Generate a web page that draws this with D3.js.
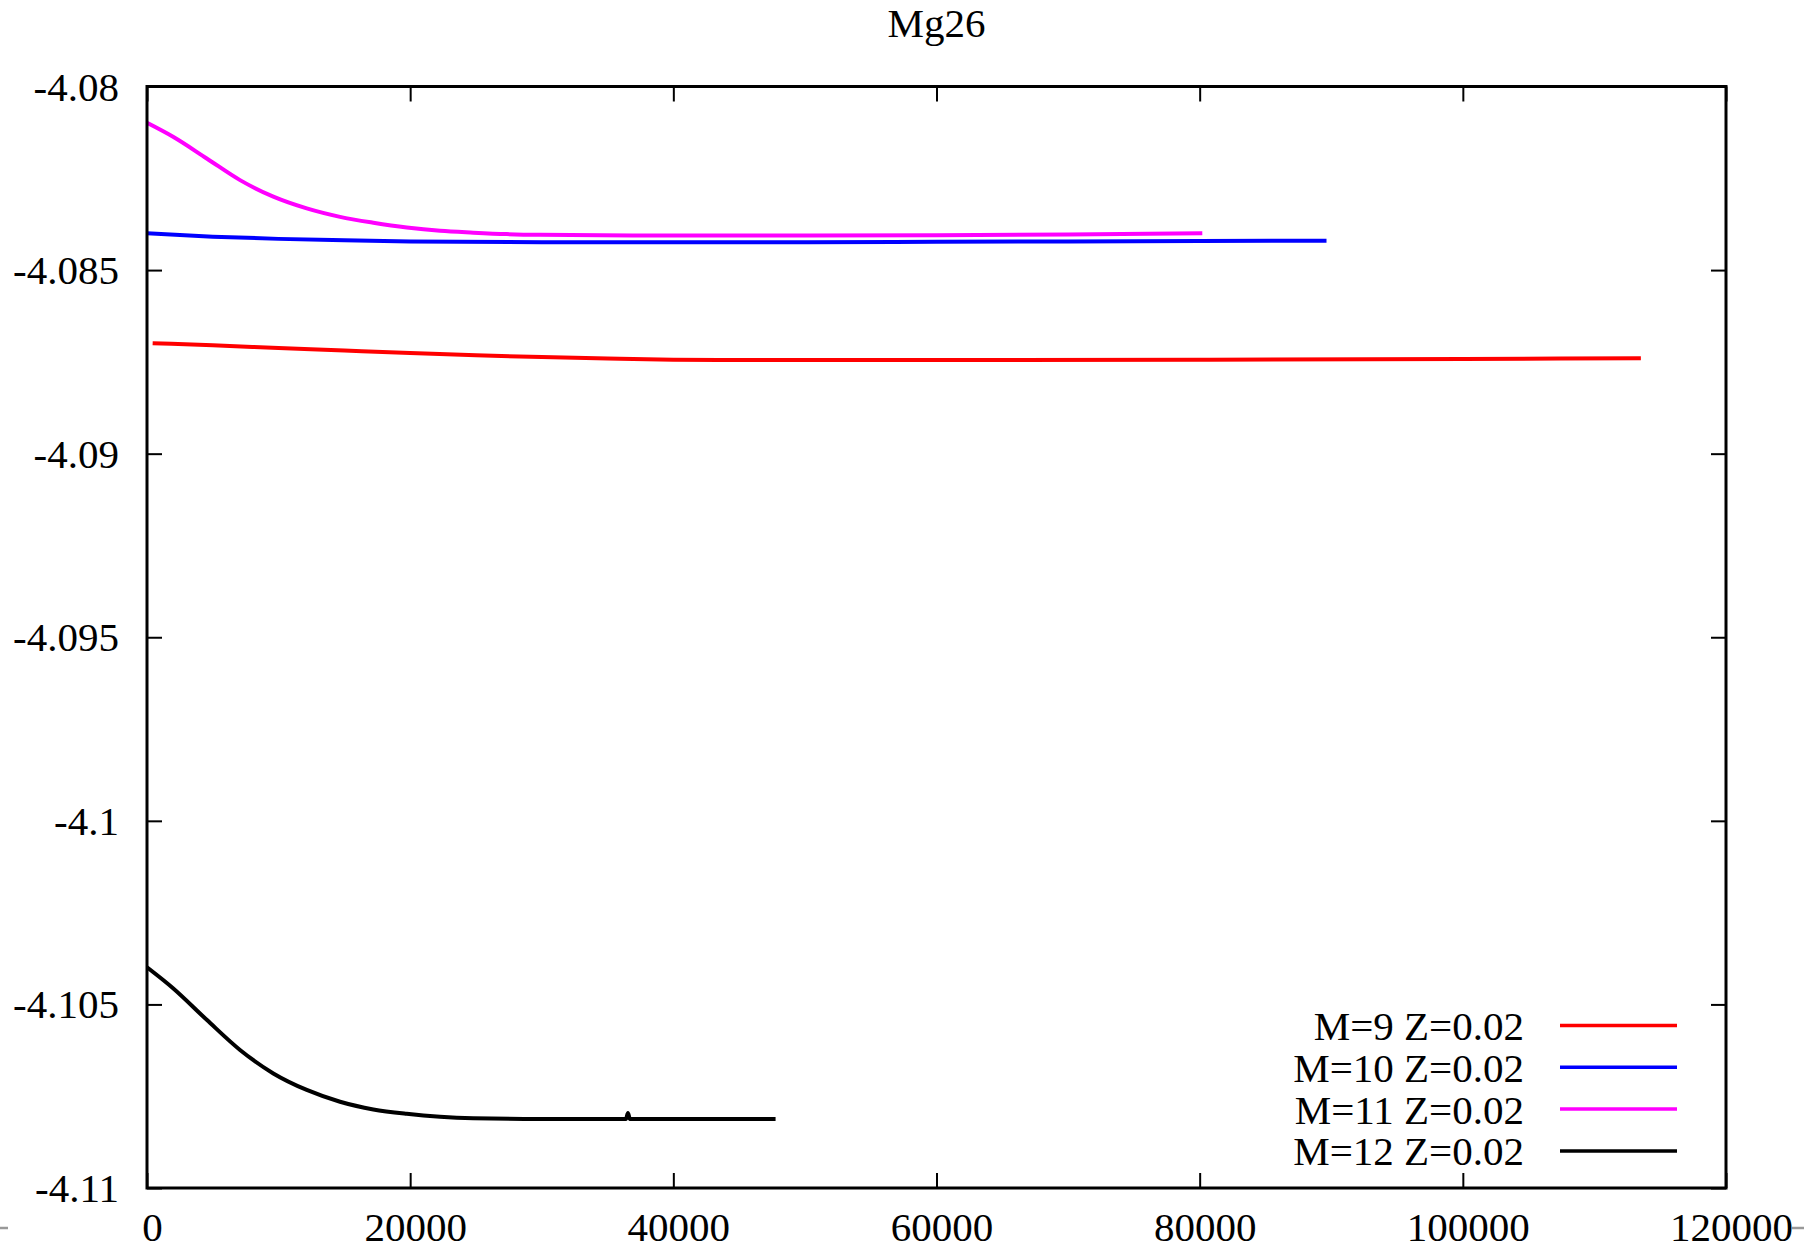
<!DOCTYPE html>
<html>
<head>
<meta charset="utf-8">
<script src="https://cdn.jsdelivr.net/npm/d3@7"></script>
<style>
  html, body { margin: 0; padding: 0; background: #fff; }
  svg { display: block; }
  text { font-family: "Liberation Serif", "DejaVu Serif", serif; fill: #000; }
</style>
</head>
<body>
<svg id="chart" width="1804" height="1250"></svg>
<script>
// Mg26 surface abundance (log) versus age for four stellar masses at Z=0.02

const title = "Mg26";

const seriesNames = ["M=9 Z=0.02", "M=10 Z=0.02", "M=11 Z=0.02", "M=12 Z=0.02"];
const seriesColors = ["#ff0000", "#0000ff", "#ff00ff", "#000000"];

// M=9
const age9 = [430, 5000, 10000, 15000, 20000, 25000, 30000, 35000, 40000, 45000, 60000, 80000, 100000, 113530];
const mg9  = [-4.08699, -4.08705, -4.08712, -4.08719, -4.08726, -4.08732, -4.08737, -4.08741, -4.08744, -4.08745, -4.08745, -4.08744, -4.08742, -4.08740];

// M=10
const age10 = [0, 5000, 10000, 15000, 20000, 30000, 40000, 50000, 60000, 70000, 80000, 89640];
const mg10  = [-4.08400, -4.08409, -4.08415, -4.08419, -4.08422, -4.08424, -4.08424, -4.08424, -4.08423, -4.08422, -4.08421, -4.08420];

// M=11
const age11 = [0, 1980, 4540, 7070, 9600, 12140, 14670, 17200, 19740, 22270, 24800, 27340, 29870, 38700, 50000, 60000, 70000, 80200];
const mg11  = [-4.08099, -4.08137, -4.08196, -4.08255, -4.08300, -4.08332, -4.08355, -4.08371, -4.08384, -4.08393, -4.08398, -4.08402, -4.08404, -4.08406, -4.08406, -4.08405, -4.08403, -4.08400];

// M=12
const age12 = [0, 1980, 4540, 7070, 9600, 12140, 14670, 17200, 19740, 22270, 24800, 29870, 36400, 36550, 36700, 42000, 47770];
const mg12  = [-4.10399, -4.10456, -4.10542, -4.10624, -4.10688, -4.10733, -4.10765, -4.10786, -4.10798, -4.10806, -4.10810, -4.10812, -4.10812, -4.10796, -4.10812, -4.10812, -4.10812];

const xTicks = [0, 20000, 40000, 60000, 80000, 100000, 120000];
const xTickLabels = ["0", "20000", "40000", "60000", "80000", "100000", "120000"];
const yTicks = [-4.11, -4.105, -4.1, -4.095, -4.09, -4.085, -4.08];
const yTickLabels = ["-4.11", "-4.105", "-4.1", "-4.095", "-4.09", "-4.085", "-4.08"];

const ages = [age9, age10, age11, age12];
const values = [mg9, mg10, mg11, mg12];

// ---- layout ----
const plot = { left: 147, right: 1726, top: 86.5, bottom: 1188 };
const fontSize = 41;

const svg = d3.select("#chart");

const x = d3.scaleLinear().domain([0, 120000]).range([plot.left, plot.right]);
const y = d3.scaleLinear().domain([-4.11, -4.08]).range([plot.bottom, plot.top]);

// axes with inward ticks on all four sides
const tickLen = 15;
function styleAxis(g) {
  g.select(".domain").remove();
  g.selectAll(".tick line").attr("stroke", "#000").attr("stroke-width", 2);
  g.selectAll(".tick text")
    .style("font-family", '"Liberation Serif", "DejaVu Serif", serif')
    .style("font-size", fontSize + "px")
    .attr("fill", "#000");
}

svg.append("g")
  .attr("transform", `translate(0,${plot.bottom})`)
  .call(d3.axisBottom(x).tickValues(xTicks).tickSize(-tickLen)
        .tickFormat((d, i) => xTickLabels[i]))
  .call(styleAxis)
  .call(g => g.selectAll(".tick text").attr("y", 53).attr("dy", 0).attr("dx", 5));

svg.append("g")
  .attr("transform", `translate(0,${plot.top})`)
  .call(d3.axisTop(x).tickValues(xTicks).tickSize(-tickLen).tickFormat(""))
  .call(styleAxis);

svg.append("g")
  .attr("transform", `translate(${plot.left},0)`)
  .call(d3.axisLeft(y).tickValues(yTicks).tickSize(-tickLen).tickPadding(28)
        .tickFormat((d, i) => yTickLabels[i]))
  .call(styleAxis)
  .call(g => g.selectAll(".tick text").attr("dy", 13.5));

svg.append("g")
  .attr("transform", `translate(${plot.right},0)`)
  .call(d3.axisRight(y).tickValues(yTicks).tickSize(-tickLen).tickFormat(""))
  .call(styleAxis);

// data lines
const line = d3.line()
  .x(d => x(d[0]))
  .y(d => y(d[1]))
  .curve(d3.curveMonotoneX);

svg.append("clipPath").attr("id", "plotClip")
  .append("rect")
  .attr("x", plot.left).attr("y", plot.top)
  .attr("width", plot.right - plot.left).attr("height", plot.bottom - plot.top);

const series = seriesNames.map((name, i) => ({
  name,
  color: seriesColors[i],
  points: ages[i].map((a, j) => [a, values[i][j]])
}));

svg.append("g")
  .attr("clip-path", "url(#plotClip)")
  .selectAll("path")
  .data(series)
  .join("path")
  .attr("d", d => line(d.points))
  .attr("fill", "none")
  .attr("stroke", d => d.color)
  .attr("stroke-width", 4)
  .attr("stroke-linejoin", "round");

// frame
svg.append("rect")
  .attr("x", plot.left).attr("y", plot.top)
  .attr("width", plot.right - plot.left).attr("height", plot.bottom - plot.top)
  .attr("fill", "none").attr("stroke", "#000").attr("stroke-width", 3);

// legend (bottom right, inside the frame)
const legend = svg.append("g");
const legendTop = 1025.5, legendStep = 41.8;
const legendTextRight = 1524, legendLineX1 = 1560, legendLineX2 = 1677;
const rows = legend.selectAll("g").data(series).join("g")
  .attr("transform", (d, i) => `translate(0,${legendTop + i * legendStep})`);
rows.append("text")
  .attr("x", legendTextRight).attr("y", 14.5)
  .attr("text-anchor", "end")
  .style("font-size", fontSize + "px")
  .text(d => d.name);
rows.append("line")
  .attr("x1", legendLineX1).attr("x2", legendLineX2)
  .attr("y1", 0).attr("y2", 0)
  .attr("stroke", d => d.color).attr("stroke-width", 3.5);

// title
svg.append("text")
  .attr("x", (plot.left + plot.right) / 2).attr("y", 37)
  .attr("text-anchor", "middle")
  .style("font-size", fontSize + "px")
  .text(title);

// small grey marks at the page edges beside the x labels
svg.append("line").attr("x1", 0).attr("x2", 8).attr("y1", 1228).attr("y2", 1228)
  .attr("stroke", "#999").attr("stroke-width", 2.5);
svg.append("line").attr("x1", 1792).attr("x2", 1804).attr("y1", 1228).attr("y2", 1228)
  .attr("stroke", "#999").attr("stroke-width", 2.5);
</script>
</body>
</html>
